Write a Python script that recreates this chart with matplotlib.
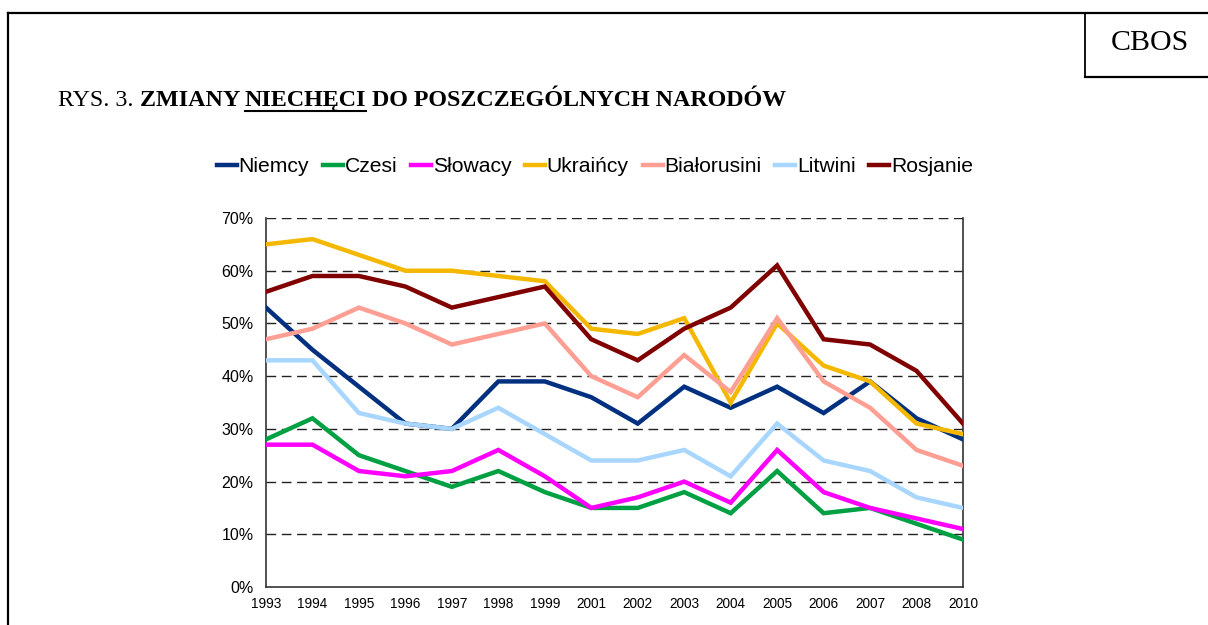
import matplotlib
matplotlib.use("Agg")
import matplotlib.pyplot as plt
from matplotlib.lines import Line2D

years = ["1993", "1994", "1995", "1996", "1997", "1998", "1999", "2001",
         "2002", "2003", "2004", "2005", "2006", "2007", "2008", "2010"]
niemcy = [53, 45, 38, 31, 30, 39, 39, 36, 31, 38, 34, 38, 33, 39, 32, 28]
czesi = [28, 32, 25, 22, 19, 22, 18, 15, 15, 18, 14, 22, 14, 15, 12, 9]
slowacy = [27, 27, 22, 21, 22, 26, 21, 15, 17, 20, 16, 26, 18, 15, 13, 11]
ukraincy = [65, 66, 63, 60, 60, 59, 58, 49, 48, 51, 35, 50, 42, 39, 31, 29]
bialorusini = [47, 49, 53, 50, 46, 48, 50, 40, 36, 44, 37, 51, 39, 34, 26, 23]
litwini = [43, 43, 33, 31, 30, 34, 29, 24, 24, 26, 21, 31, 24, 22, 17, 15]
rosjanie = [56, 59, 59, 57, 53, 55, 57, 47, 43, 49, 53, 61, 47, 46, 41, 31]

series_names = ["Niemcy", "Czesi", "Słowacy", "Ukraińcy", "Białorusini", "Litwini", "Rosjanie"]
series_values = [niemcy, czesi, slowacy, ukraincy, bialorusini, litwini, rosjanie]
colors = ["#00307F", "#00A043", "#FF00FF", "#F5B800", "#FF9F94", "#A8D6FF", "#800000"]

W, H = 1208, 625
fig = plt.figure(figsize=(W / 100, H / 100), dpi=100)

def fx(px):
    return px / W

def fy(py):
    return 1 - py / H

ax = fig.add_axes([fx(266), fy(587), fx(963) - fx(266), fy(218) - fy(587)])
x = list(range(len(years)))
for name, vals, c in zip(series_names, series_values, colors):
    ax.plot(x, [v / 100 for v in vals], color=c, lw=3.2, label=name,
            solid_joinstyle="miter", zorder=3)

ax.set_xlim(0, len(years) - 1)
ax.set_ylim(0, 0.7)
ax.set_yticks([i / 10 for i in range(8)])
ax.set_yticklabels([f"{i*10}%" for i in range(8)], fontsize=11.5,
                   family="Liberation Sans")
ax.set_xticks(x)
ax.set_xticklabels(years, fontsize=9.8, family="Liberation Sans")
ax.tick_params(axis="y", length=0, pad=9)
ax.tick_params(axis="x", length=0, pad=7)
for yv in [0.1, 0.2, 0.3, 0.4, 0.5, 0.6, 0.7]:
    ax.axhline(yv, color="#222222", lw=1.0, dashes=(7, 4), zorder=1)
ax.spines["top"].set_visible(False)
for s in ["left", "right", "bottom"]:
    ax.spines[s].set_color("#333333")
    ax.spines[s].set_linewidth(1.2)

handles = [Line2D([0], [0], color=c, lw=3.2) for c in colors]
fig.legend(handles, series_names, loc="center", bbox_to_anchor=(fx(595), fy(167)),
           ncol=7, frameon=False, handlelength=0.95, handletextpad=0.08,
           columnspacing=0.65, prop={"family": "Liberation Sans", "size": 15.2})

# page borders
fig.add_artist(Line2D([fx(8), fx(8)], [fy(13), fy(630)], color="black", lw=1.6))
fig.add_artist(Line2D([fx(8), fx(1210)], [fy(13), fy(13)], color="black", lw=1.6))
fig.add_artist(Line2D([fx(1085), fx(1085)], [fy(13), fy(77)], color="black", lw=1.3))
fig.add_artist(Line2D([fx(1085), fx(1210)], [fy(77), fy(77)], color="black", lw=1.6))
fig.text(fx(1150), fy(43), "CBOS", ha="center", va="center", fontsize=21.5,
         family="Liberation Serif")

# title composed of pieces
renderer = fig.canvas.get_renderer()
xpos = 58
ybase = fy(106)
pieces = [("RYS. 3. ", "normal", False), ("ZMIANY ", "bold", False),
          ("NIECHĘCI", "bold", True), (" DO POSZCZEGÓLNYCH NARODÓW", "bold", False)]
for txt, wt, ul in pieces:
    t = fig.text(fx(xpos), ybase, txt, fontsize=17.3, weight=wt,
                 family="Liberation Serif", ha="left", va="baseline")
    bb = t.get_window_extent(renderer=renderer)
    if ul:
        fig.add_artist(Line2D([bb.x0 / W, bb.x1 / W], [fy(110.5), fy(110.5)],
                              color="black", lw=1.5))
    xpos += bb.width

fig.savefig("out.png", dpi=100)
